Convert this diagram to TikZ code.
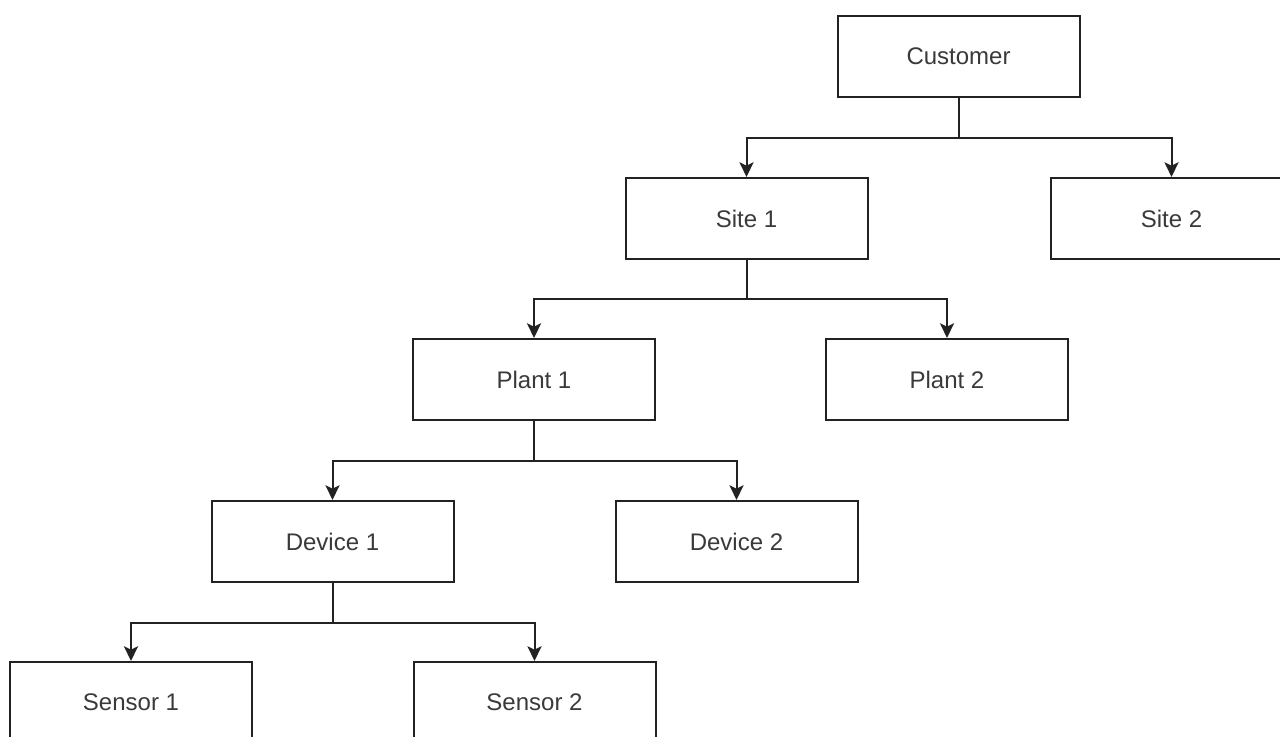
\documentclass[tikz,border=0pt]{standalone}
\usepackage{fontspec}
\setmainfont{Liberation Sans}
\usetikzlibrary{arrows.meta}
\definecolor{boxline}{HTML}{222222}
\definecolor{txt}{HTML}{3A3A3A}
\tikzset{
  x=0.75pt, y=-0.75pt,
  box/.style={draw=boxline, fill=white, line width=1.5pt, minimum width=181.5pt, minimum height=60.75pt, inner sep=0pt, text=txt, font=\fontsize{18}{21}\selectfont},
  arr/.style={draw=boxline, line width=1.5pt, -{Stealth[length=11pt,width=10.5pt,inset=2.5pt]}}
}
\begin{document}
\begin{tikzpicture}
\useasboundingbox (0,0) rectangle (1280,737);
\clip (0,0) rectangle (1280,737);
\node[box] (cust) at (958.5,56.5) {Customer};
\node[box] (site1) at (746.5,218.5) {Site 1};
\node[box] (site2) at (1171.5,218.5) {Site 2};
\node[box] (plant1) at (534,379.5) {Plant 1};
\node[box] (plant2) at (947,379.5) {Plant 2};
\node[box] (dev1) at (332.5,541.5) {Device 1};
\node[box] (dev2) at (736.5,541.5) {Device 2};
\node[box] (sens1) at (131,702.5) {Sensor 1};
\node[box] (sens2) at (534.5,702.5) {Sensor 2};
\draw[arr] (cust.south) -- ++(0,40) -| (site1.north);
\draw[arr] (cust.south) -- ++(0,40) -| (site2.north);
\draw[arr] (site1.south) -- ++(0,39.5) -| (plant1.north);
\draw[arr] (site1.south) -- ++(0,39.5) -| (plant2.north);
\draw[arr] (plant1.south) -- ++(0,40) -| (dev1.north);
\draw[arr] (plant1.south) -- ++(0,40) -| (dev2.north);
\draw[arr] (dev1.south) -- ++(0,40) -| (sens1.north);
\draw[arr] (dev1.south) -- ++(0,40) -| (sens2.north);
\end{tikzpicture}
\end{document}
